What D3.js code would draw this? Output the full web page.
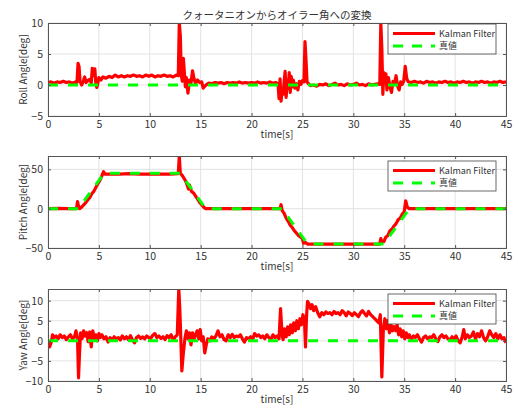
<!DOCTYPE html>
<html>
<head>
<meta charset="utf-8">
<script src="https://cdn.jsdelivr.net/npm/d3@7"></script>
<style>
  body { margin: 0; background: #fff; }
  text { font-family: "Noto Sans CJK JP", "Noto Sans", sans-serif; fill: #333; }
</style>
</head>
<body>
<div id="chart"></div>
<script>
// time ticks
var timeTicks = [0, 5, 10, 15, 20, 25, 30, 35, 40, 45];

// roll [t, deg]
var rollKF = [[0,0.4],[0.3,0.5],[0.6,0.3],[0.9,0.5],[1.2,0.4],[1.5,0.6],[1.8,0.4],[2.1,0.5],[2.4,0.3],[2.7,0.5],[2.85,0.4],[2.95,3.5],[3.05,3.0],[3.15,0.6],[3.3,0.0],[3.45,0.5],[3.6,1.3],[3.75,0.4],[3.9,0.7],[4.1,0.9],[4.25,0.3],[4.35,2.7],[4.5,1.5],[4.6,2.6],[4.7,0.2],[4.8,-0.4],[4.9,0.3],[5.0,1.2],[5.2,0.8],[5.4,1.3],[5.7,1.1],[6.0,1.4],[6.3,1.2],[6.6,1.6],[6.9,1.3],[7.2,1.5],[7.5,1.3],[7.8,1.5],[8.1,1.4],[8.4,1.6],[8.7,1.4],[9.0,1.5],[9.3,1.3],[9.6,1.6],[9.9,1.4],[10.2,1.6],[10.5,1.3],[10.8,1.5],[11.1,1.4],[11.4,1.6],[11.7,1.4],[12.0,1.5],[12.3,1.3],[12.6,1.6],[12.8,1.5],[12.9,10],[13.0,8],[13.1,1.5],[13.2,0.6],[13.3,4.3],[13.4,2.0],[13.5,-0.3],[13.6,1.2],[13.75,-1.3],[13.9,0.8],[14.05,0.3],[14.2,2.3],[14.35,1.0],[14.5,0.2],[14.7,0.8],[14.9,0.4],[15.1,0.5],[15.25,-0.5],[15.4,-0.2],[15.6,0.1],[15.8,0.3],[16.1,0.2],[16.4,0.4],[16.7,0.3],[17.0,0.4],[17.3,0.2],[17.6,0.4],[17.9,0.3],[18.2,0.4],[18.5,0.3],[18.8,0.5],[19.1,0.3],[19.4,0.4],[19.7,0.3],[20.0,0.4],[20.3,0.3],[20.6,0.5],[20.9,0.3],[21.2,0.4],[21.5,0.3],[21.8,0.5],[22.1,0.3],[22.4,0.4],[22.6,0.2],[22.7,-2.2],[22.8,1.0],[22.9,-2.6],[23.0,-0.8],[23.1,-1.5],[23.2,0.5],[23.3,2.2],[23.4,-2.0],[23.5,0.8],[23.6,-0.6],[23.7,2.0],[23.8,-1.2],[23.9,1.4],[24.0,-0.3],[24.1,0.8],[24.25,-0.5],[24.4,0.2],[24.55,-0.8],[24.7,0.6],[24.85,0.1],[25.0,0.7],[25.15,0.5],[25.25,7.0],[25.35,4.0],[25.45,0.5],[25.6,0.2],[25.8,-0.1],[26.1,0.0],[26.4,-0.2],[26.7,0.1],[27.0,0.0],[27.3,0.2],[27.6,-0.1],[27.9,0.1],[28.2,0.3],[28.5,0.0],[28.8,0.1],[29.1,-0.1],[29.4,0.2],[29.7,0.0],[30.0,0.1],[30.3,0.3],[30.6,0.0],[30.9,0.1],[31.2,-0.1],[31.5,0.2],[31.8,0.0],[32.1,0.1],[32.4,0.2],[32.6,0.1],[32.7,10],[32.8,6],[32.9,-1.5],[33.0,2.0],[33.1,0.5],[33.2,1.8],[33.3,-0.8],[33.45,1.2],[33.6,-0.3],[33.75,-1.2],[33.9,0.6],[34.05,0.2],[34.2,1.5],[34.35,-0.2],[34.5,-0.8],[34.65,0.5],[34.8,0.1],[34.95,0.6],[35.1,3.0],[35.25,1.0],[35.4,0.5],[35.7,0.4],[36.0,0.6],[36.3,0.4],[36.6,0.5],[36.9,0.3],[37.2,0.6],[37.5,0.4],[37.8,0.5],[38.1,0.3],[38.4,0.5],[38.7,0.4],[39.0,0.6],[39.3,0.4],[39.6,0.5],[39.9,0.3],[40.2,0.5],[40.5,0.4],[40.8,0.6],[41.1,0.4],[41.4,0.5],[41.7,0.3],[42.0,0.5],[42.3,0.4],[42.6,0.6],[42.9,0.4],[43.2,0.5],[43.5,0.3],[43.8,0.5],[44.1,0.4],[44.4,0.6],[44.7,0.4],[45,0.5]];
var rollTrue = [[0,0],[45,0]];

// pitch [t, deg]
var pitchKF = [[0,0],[1,0.3],[2,0],[2.8,0],[2.9,9],[3.0,3],[3.1,0],[3.3,2],[3.6,6],[3.9,11],[4.1,14],[4.3,19],[4.5,22],[4.7,27],[4.9,32],[5.1,36],[5.3,42],[5.45,47],[5.6,44],[6,44],[7,44],[8,44.5],[9,44],[10,44],[11,44],[12,44],[12.8,44.5],[12.9,67],[13.0,45],[13.2,42],[13.4,38],[13.6,33],[13.8,25],[13.9,30],[14.1,22],[14.3,20],[14.5,16],[14.7,12],[14.9,8],[15.1,5],[15.3,2],[15.5,0],[16,0],[17,0],[18,0],[19,0],[20,0],[21,0],[22,0],[22.8,0],[22.9,5],[23.0,-2],[23.2,-6],[23.4,-12],[23.6,-16],[23.8,-21],[24.0,-24],[24.2,-28],[24.4,-31],[24.6,-34],[24.8,-36],[25.0,-38],[25.1,-44],[25.3,-43],[25.5,-45],[26,-45],[27,-45],[28,-45],[29,-45],[30,-45],[31,-45],[32,-45],[32.6,-45],[32.7,-38],[32.8,-42],[33.0,-42],[33.2,-36],[33.4,-34],[33.6,-28],[33.8,-26],[34.0,-22],[34.2,-19],[34.4,-14],[34.6,-12],[34.8,-7],[35.0,-4],[35.15,10],[35.3,2],[35.5,0],[36,0],[45,0]];
var pitchTrue = [[0,0],[3,0],[5.5,45],[13,45],[15.5,0],[23,0],[25.5,-45],[33,-45],[35.5,0],[45,0]];

// yaw [t, deg]
var yawKF = [[0,0],[0.15,-1.5],[0.3,-0.5],[0.45,1.5],[0.6,0.8],[0.8,1.2],[1.0,0.5],[1.2,1.5],[1.4,0.8],[1.6,1.2],[1.8,0.3],[2.0,1.0],[2.2,1.5],[2.4,0.5],[2.6,1.0],[2.75,2.5],[2.9,0.5],[3.0,-9.2],[3.1,-3],[3.2,2.0],[3.35,0.5],[3.5,2.5],[3.65,1.2],[3.8,2.0],[3.95,-0.2],[4.1,2.2],[4.25,-1.5],[4.4,2.5],[4.55,0.5],[4.7,1.5],[4.85,0],[5.0,1.8],[5.15,0.8],[5.3,1.5],[5.5,0.5],[5.7,1.0],[5.9,-0.3],[6.1,0.8],[6.3,0.2],[6.5,1.0],[6.7,0.5],[6.9,0.8],[7.1,0.2],[7.3,1.2],[7.5,0.5],[7.7,1.0],[7.9,0.3],[8.1,1.3],[8.3,0.2],[8.5,-0.5],[8.7,0.8],[8.9,1.2],[9.1,0.6],[9.3,1.0],[9.5,0.5],[9.7,1.2],[9.9,0.8],[10.1,0.6],[10.3,1.4],[10.5,1.8],[10.7,0.8],[10.9,1.2],[11.1,0.6],[11.3,1.0],[11.5,0.3],[11.7,1.3],[11.9,0.8],[12.1,1.5],[12.3,0.2],[12.5,1.0],[12.7,1.5],[12.85,13],[12.95,8],[13.05,0.5],[13.15,-7.5],[13.3,-3],[13.45,0.5],[13.6,2.5],[13.75,0.5],[13.9,2.0],[14.05,-1.0],[14.2,2.0],[14.35,0.5],[14.5,1.5],[14.65,2.5],[14.8,0.5],[14.95,2.8],[15.1,0.0],[15.25,1.0],[15.4,-3.0],[15.55,-1.0],[15.7,0.5],[15.9,0.0],[16.1,1.0],[16.3,0.5],[16.5,1.2],[16.7,2.5],[16.9,1.0],[17.1,1.5],[17.3,0.3],[17.5,0.0],[17.7,1.5],[17.9,0.8],[18.1,1.6],[18.3,0.8],[18.5,1.2],[18.7,1.0],[18.9,1.5],[19.1,0.5],[19.3,-0.3],[19.5,0.8],[19.7,0.5],[19.9,1.0],[20.1,0.3],[20.3,1.8],[20.5,1.2],[20.7,1.5],[20.9,0.8],[21.1,1.2],[21.3,0.5],[21.5,1.5],[21.7,0.8],[21.9,0.3],[22.1,1.5],[22.3,0.8],[22.5,1.2],[22.7,0.5],[22.85,8],[23.0,1.5],[23.1,0.3],[23.25,3.0],[23.4,1.0],[23.55,3.5],[23.7,1.5],[23.85,4.0],[24.0,2.0],[24.15,4.5],[24.3,2.5],[24.45,5.0],[24.6,3.0],[24.75,5.5],[24.9,4.0],[25.05,6.5],[25.2,5.0],[25.3,-1.5],[25.4,6],[25.5,9.8],[25.65,9.2],[25.8,8.0],[25.95,9.0],[26.1,7.5],[26.3,8.5],[26.5,7.0],[26.7,6.0],[26.9,7.0],[27.1,6.5],[27.3,7.2],[27.5,6.8],[27.7,7.0],[27.9,6.5],[28.1,7.3],[28.3,6.8],[28.5,7.0],[28.7,6.5],[28.9,7.5],[29.1,7.0],[29.3,6.2],[29.5,7.2],[29.7,6.8],[29.9,6.3],[30.1,7.0],[30.3,6.5],[30.5,6.0],[30.7,7.0],[30.9,7.5],[31.1,6.8],[31.3,6.2],[31.5,7.3],[31.7,6.5],[31.9,6.0],[32.1,5.5],[32.3,5.0],[32.5,4.5],[32.65,6.5],[32.8,-9],[32.95,3],[33.1,5.5],[33.25,3.0],[33.4,5.0],[33.55,2.0],[33.7,4.0],[33.85,2.5],[34.0,3.5],[34.15,2.5],[34.3,4.0],[34.45,1.5],[34.6,3.0],[34.75,1.0],[34.9,2.5],[35.05,0.5],[35.2,2.0],[35.35,0.8],[35.5,1.5],[35.7,0.3],[35.9,1.2],[36.1,0.8],[36.3,1.5],[36.5,0.5],[36.7,-0.3],[36.9,0.8],[37.1,1.2],[37.3,0.5],[37.5,1.0],[37.7,0.8],[37.9,1.5],[38.1,0.5],[38.3,-0.2],[38.5,1.0],[38.7,1.5],[38.9,0.8],[39.1,1.2],[39.3,0.5],[39.5,0.2],[39.7,1.0],[39.9,0.5],[40.1,1.2],[40.3,0.0],[40.5,-0.5],[40.7,1.0],[40.85,2.8],[41.0,0.5],[41.2,1.5],[41.4,0.8],[41.6,1.2],[41.8,2.2],[42.0,0.5],[42.2,1.8],[42.4,1.0],[42.6,2.5],[42.8,0.8],[43.0,0.0],[43.2,1.0],[43.4,2.5],[43.6,1.5],[43.8,0.8],[44.0,1.8],[44.2,0.5],[44.4,1.5],[44.6,0.5],[44.8,0.8],[45,-0.5]];
var yawTrue = [[0,0],[45,0]];

var rollTicks = [-5, 0, 5, 10];
var pitchTicks = [-50, 0, 50];
var yawTicks = [-10, -5, 0, 5, 10];
var legendLabels = ["Kalman Filter", "真値"];

var width = 516, height = 407;
var left = 48, right = 506;

var panels = [
    { top: 23, bottom: 116, ydom: [-5, 10], ticks: rollTicks, label: "Roll Angle[deg]", kf: rollKF, tr: rollTrue, lgTop: 24 },
    { top: 156, bottom: 248, ydom: [-50, 67], ticks: pitchTicks, label: "Pitch Angle[deg]", kf: pitchKF, tr: pitchTrue, lgTop: 161 },
    { top: 289, bottom: 381, ydom: [-10, 12.9], ticks: yawTicks, label: "Yaw Angle[deg]", kf: yawKF, tr: yawTrue, lgTop: 294 }
];

var svg = d3.select("#chart").append("svg")
    .attr("width", width)
    .attr("height", height);

var x = d3.scaleLinear().domain([0, 45]).range([left, right]);

// title
svg.append("text")
    .attr("x", (left + right) / 2)
    .attr("y", 19)
    .attr("text-anchor", "middle")
    .style("font-size", "10.5px")
    .text("クォータニオンからオイラー角への変換");

panels.forEach(function(p, i) {
    var y = d3.scaleLinear().domain(p.ydom).range([p.bottom, p.top]);
    var g = svg.append("g");

    // background + grid
    g.append("rect")
        .attr("x", left).attr("y", p.top)
        .attr("width", right - left).attr("height", p.bottom - p.top)
        .attr("fill", "#fff");

    g.selectAll(".vgrid").data(timeTicks).enter().append("line")
        .attr("x1", d => x(d)).attr("x2", d => x(d))
        .attr("y1", p.top).attr("y2", p.bottom)
        .attr("stroke", "#e3e3e3").attr("stroke-width", 1);
    g.selectAll(".hgrid").data(p.ticks).enter().append("line")
        .attr("x1", left).attr("x2", right)
        .attr("y1", d => y(d)).attr("y2", d => y(d))
        .attr("stroke", "#e3e3e3").attr("stroke-width", 1);

    // clip
    svg.append("clipPath").attr("id", "clip" + i)
        .append("rect")
        .attr("x", left).attr("y", p.top)
        .attr("width", right - left).attr("height", p.bottom - p.top);

    var line = d3.line().x(d => x(d[0])).y(d => y(d[1]));

    g.append("path")
        .datum(p.kf)
        .attr("clip-path", "url(#clip" + i + ")")
        .attr("fill", "none")
        .attr("stroke", "#ff0000")
        .attr("stroke-width", 3.2)
        .attr("stroke-linejoin", "round")
        .attr("d", line);

    g.append("path")
        .datum(p.tr)
        .attr("clip-path", "url(#clip" + i + ")")
        .attr("fill", "none")
        .attr("stroke", "#00ff00")
        .attr("stroke-width", 3)
        .attr("stroke-dasharray", "10,10")
        .attr("d", line);

    // axes
    g.append("g")
        .attr("transform", "translate(0," + p.bottom + ")")
        .call(d3.axisBottom(x).tickValues(timeTicks).tickSize(-3).tickPadding(5));
    g.append("g")
        .attr("transform", "translate(0," + p.top + ")")
        .call(d3.axisTop(x).tickValues(timeTicks).tickSize(-3).tickFormat(""));
    g.append("g")
        .attr("transform", "translate(" + left + ",0)")
        .call(d3.axisLeft(y).tickValues(p.ticks).tickSize(-3).tickPadding(5)
            .tickFormat(d => d < 0 ? "\u2212" + Math.abs(d) : d));
    g.append("g")
        .attr("transform", "translate(" + right + ",0)")
        .call(d3.axisRight(y).tickValues(p.ticks).tickSize(-3).tickFormat(""));

    g.selectAll(".domain").attr("stroke", "#555").attr("stroke-width", 1);
    g.selectAll(".tick line").attr("stroke", "#555");
    g.selectAll(".tick text").style("font-size", "10.5px").attr("fill", "#333");

    // labels
    g.append("text")
        .attr("x", (left + right) / 2)
        .attr("y", p.bottom + 22)
        .attr("text-anchor", "middle")
        .style("font-size", "10px")
        .text("time[s]");

    g.append("text")
        .attr("transform", "translate(27," + ((p.top + p.bottom) / 2) + ") rotate(-90)")
        .attr("text-anchor", "middle")
        .style("font-size", "10px")
        .text(p.label);

    // legend
    var lx = 388, lw = 108, lh = 30;
    var lg = g.append("g");
    lg.append("rect")
        .attr("x", lx).attr("y", p.lgTop)
        .attr("width", lw).attr("height", lh)
        .attr("fill", "#fff").attr("stroke", "#444").attr("stroke-width", 0.8);
    var r1 = p.lgTop + 9.5;
    var r2 = p.lgTop + 22;
    lg.append("line").attr("x1", 393).attr("x2", 435).attr("y1", r1).attr("y2", r1)
        .attr("stroke", "#ff0000").attr("stroke-width", 3);
    lg.append("line").attr("x1", 393).attr("x2", 435).attr("y1", r2).attr("y2", r2)
        .attr("stroke", "#00ff00").attr("stroke-width", 3).attr("stroke-dasharray", "10,9");
    lg.append("text").attr("x", 439).attr("y", r1 + 3.2)
        .style("font-size", "9px").text(legendLabels[0]);
    lg.append("text").attr("x", 439).attr("y", r2 + 3.2)
        .style("font-size", "9px").text(legendLabels[1]);
});
</script>
</body>
</html>
